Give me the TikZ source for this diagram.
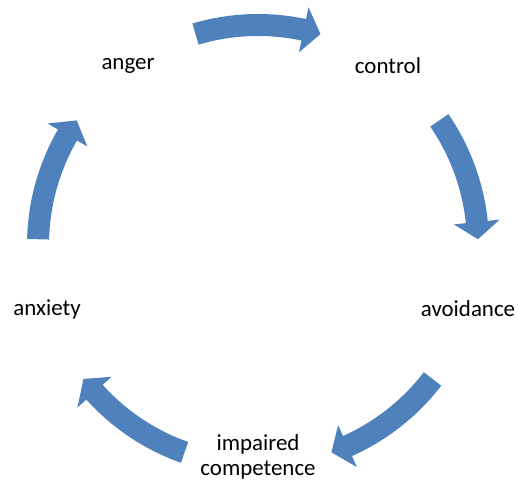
\documentclass[tikz,border=0pt]{standalone}
\usepackage{fontspec}
\setmainfont{Carlito}
\definecolor{cyclefill}{HTML}{4F81BD}
\begin{document}
\begin{tikzpicture}[x=1bp,y=1bp,
  lbl/.style={font=\fontsize{23}{25}\selectfont, text=black, inner sep=0pt, align=center},
  cyclearrow/.style={fill=cyclefill, draw=none}]
\useasboundingbox (0,0) rectangle (518,-481);
\coordinate (O) at (258,-245);
\foreach \c in {90,18,-54,-126,162}{
  \fill[cyclearrow, shift={(O)}]
    (\c+16.5:231bp) arc[start angle=\c+16.5, end angle=\c-12, radius=231bp]
    -- (\c-12:243bp) -- (\c-16.5:220bp) -- (\c-12:197bp) -- (\c-12:209bp)
    arc[start angle=\c-12, end angle=\c+16.5, radius=209bp] -- cycle;
}
\node[lbl] (anger) at (128,-66) {anger};
\node[lbl] (control) at (388,-66) {control};
\node[lbl] (avoidance) at (468,-309) {avoidance};
\node[lbl] (anxiety) at (47,-309) {anxiety};
\node[lbl] (impaired) at (258,-457) {impaired\\competence};
\end{tikzpicture}
\end{document}
